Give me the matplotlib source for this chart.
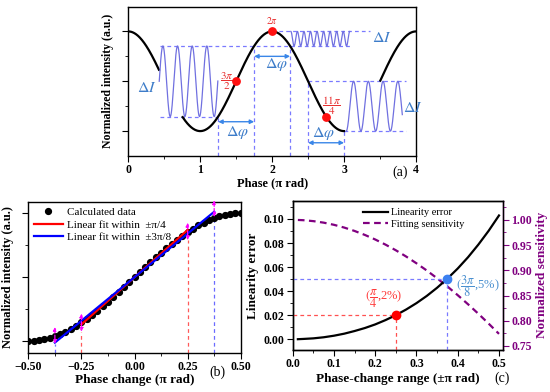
import numpy as np
import matplotlib
matplotlib.use("Agg")
import matplotlib.pyplot as plt
from matplotlib.ticker import MultipleLocator, FixedLocator

plt.rcParams['font.family'] = ['Liberation Serif', 'DejaVu Serif']
plt.rcParams['font.weight'] = 'normal'
plt.rcParams['axes.linewidth'] = 1.0
plt.rcParams['mathtext.fontset'] = 'stix'

# ---------------- data: panel (a) ----------------
a_xticks = [0, 1, 2, 3, 4]
a_xticklabels = ['0', '1', '2', '3', '4']
a_black_gaps = [(0.43, 0.755), (3.0, 3.5)]
# inset oscillations: start, end, centre, amplitude, period, start-phase (fraction of cycle)
osc_x0 = [0.43, 2.26, 3.03]
osc_x1 = [1.245, 3.08, 3.81]
osc_center = [0.5, 0.927, 0.25]
osc_amp = [0.354, 0.073, 0.25]
osc_period = [0.2037, 0.0911, 0.205]
osc_phase0 = [0.0, 0.25, -0.25]
a_hlines = [(0.854, 0.44, 3.10), (0.146, 0.44, 1.25), (1.0, 2.0, 3.36),
            (0.5, 2.5, 3.86), (0.0, 3.0, 3.86)]
a_vlines = [(1.25, 0.146), (1.75, 0.854), (2.25, 0.854), (2.5, 0.5), (3.0, 0.0)]
a_arrows = [(1.25, 1.75, 0.094), (1.75, 2.25, 0.75), (2.5, 3.0, -0.117)]
a_dphi_pos = [(1.52, -0.01), (2.06, 0.665), (2.72, -0.02)]
a_dI_pos = [(0.26, 0.43), (3.52, 0.93), (3.96, 0.23)]
a_dots_x = [1.5, 2.0, 2.75]
a_dots_y = [0.5, 1.0, 0.146]
a_dot_labels = [r'$\dfrac{3\pi}{2}$', r'$2\pi$', r'$\dfrac{11\pi}{4}$']
a_dot_label_pos = [(1.37, 0.50), (2.0, 1.11), (2.82, 0.25)]

# ---------------- data: panel (b) ----------------
b_xticks = [-0.5, -0.25, 0.0, 0.25, 0.5]
b_xticklabels = ['\u22120.50', '\u22120.25', '0.00', '0.25', '0.50']
b_x = [-0.5 + 0.025 * k for k in range(41)]
b_y = [0.000, 0.002, 0.006, 0.014, 0.024, 0.038, 0.054, 0.074, 0.095, 0.120,
       0.146, 0.175, 0.206, 0.239, 0.273, 0.309, 0.345, 0.383, 0.422, 0.461,
       0.500, 0.539, 0.578, 0.617, 0.655, 0.691, 0.727, 0.761, 0.794, 0.825,
       0.854, 0.880, 0.905, 0.926, 0.946, 0.962, 0.976, 0.986, 0.994, 0.998, 1.000]
fit_red_x = [-0.25, 0.25]
fit_red_y = [0.131, 0.869]
fit_blue_x = [-0.375, 0.375]
fit_blue_y = [-0.011, 1.011]
b_arrow_x = [-0.375, -0.25, 0.25, 0.375]
b_arrow_lo = [-0.02, 0.075, 0.79, 0.97]
b_arrow_hi = [0.11, 0.215, 0.925, 1.10]
b_arrow_col = ['#6a6aff', '#ff5a5a', '#ff5a5a', '#6a6aff']

# ---------------- data: panel (c) ----------------
c_xticks = [0.0, 0.1, 0.2, 0.3, 0.4, 0.5]
c_xticklabels = ['0.0', '0.1', '0.2', '0.3', '0.4', '0.5']
c_yticks = [0.00, 0.02, 0.04, 0.06, 0.08, 0.10]
c_yticklabels = ['0.00', '0.02', '0.04', '0.06', '0.08', '0.10']
c_y2ticks = [0.75, 0.80, 0.85, 0.90, 0.95, 1.00]
c_y2ticklabels = ['0.75', '0.80', '0.85', '0.90', '0.95', '1.00']
c_x = [0.0125, 0.025, 0.05, 0.075, 0.1, 0.125, 0.15, 0.175, 0.2, 0.225, 0.25,
       0.275, 0.3, 0.325, 0.35, 0.375, 0.4, 0.425, 0.45, 0.475, 0.5]
c_lin_err = [0.0000, 0.0002, 0.0007, 0.0016, 0.0029, 0.0046, 0.0068, 0.0093,
             0.0123, 0.0159, 0.0200, 0.0247, 0.0300, 0.0360, 0.0428, 0.0504,
             0.0588, 0.0682, 0.0787, 0.0902, 0.1029]
c_sens = [0.9998, 0.9994, 0.9975, 0.9945, 0.9902, 0.9847, 0.9780, 0.9701,
          0.9611, 0.9509, 0.9397, 0.9273, 0.9139, 0.8996, 0.8842, 0.8679,
          0.8507, 0.8327, 0.8139, 0.7943, 0.7740]
c_pts_x = [0.25, 0.375]
c_pts_y = [0.02, 0.05]

PURPLE = '#800080'
DASHBLUE = '#7a7aff'
ARROWBLUE = '#3a86e8'
TXTBLUE = '#3d7cc9'
B = 'bold'

fig = plt.figure(figsize=(5.5, 3.92), dpi=100)

# ================= panel (a) =================
axa = fig.add_axes([0.2333, 0.602, 0.523, 0.3814])
xx = np.linspace(0, 4, 800)
yy = 0.5 + 0.5 * np.cos(np.pi * xx)
for g0, g1 in a_black_gaps:
    yy = np.where((xx > g0) & (xx < g1), np.nan, yy)
axa.plot(xx, yy, color='black', lw=1.6, zorder=3)
for x0, x1, c, A, P, ph in zip(osc_x0, osc_x1, osc_center, osc_amp, osc_period, osc_phase0):
    t = np.linspace(x0, x1, 400)
    axa.plot(t, c + A * np.sin(2 * np.pi * ((t - x0) / P + ph)), color='#7070e0', lw=0.9, zorder=4)
for y, x0, x1 in a_hlines:
    axa.plot([x0, x1], [y, y], color=DASHBLUE, lw=0.9, ls=(0, (3, 2.5)), zorder=2)
for x, ytop in a_vlines:
    axa.plot([x, x], [-0.25, ytop], color=DASHBLUE, lw=0.9, ls=(0, (3, 2.5)), zorder=2)
for x0, x1, y in a_arrows:
    axa.annotate('', xy=(x0, y), xytext=(x1, y),
                 arrowprops=dict(arrowstyle='<|-|>', color=ARROWBLUE, lw=1.0,
                                 mutation_scale=6, shrinkA=0, shrinkB=0))
for (x, y) in a_dphi_pos:
    axa.text(x, y, r'$\Delta\varphi$', color=TXTBLUE, fontsize=11.5, ha='center', va='center')
for (x, y) in a_dI_pos:
    axa.text(x, y, r'$\Delta I$', color=TXTBLUE, fontsize=11.5, ha='center', va='center')
axa.scatter(a_dots_x, a_dots_y, s=28, color='#ff1010', zorder=6)
for lab, (x, y), fs in zip(a_dot_labels, a_dot_label_pos, [8, 7, 8]):
    axa.text(x, y, lab, color='#e83030', fontsize=fs, ha='center', va='center')
axa.set_xlim(0, 4)
axa.set_ylim(-0.25, 1.25)
axa.set_xticks(a_xticks, a_xticklabels, fontweight=B)
axa.xaxis.set_minor_locator(MultipleLocator(0.5))
axa.set_yticks([0, 0.5, 1.0], [])
axa.yaxis.set_minor_locator(FixedLocator([0.25, 0.75]))
axa.tick_params(which='major', length=4, labelsize=8.5, pad=2)
axa.tick_params(which='minor', length=2.5)
axa.set_xlabel('Phase (π rad)', fontsize=9, fontweight=B, labelpad=1)
axa.set_ylabel('Normalized intensity (a.u.)', fontsize=8.5, fontweight=B, labelpad=4)
fig.text(400 / 550, 1 - 172 / 392, '(a)', fontsize=10, ha='center', va='center')

# ================= panel (b) =================
axb = fig.add_axes([0.0515, 0.1003, 0.3862, 0.3852])
for x, lo, hi, col in zip(b_arrow_x, b_arrow_lo, b_arrow_hi, b_arrow_col):
    axb.plot([x, x], [-0.09, lo], color=col, lw=0.9, ls=(0, (3, 2.5)), zorder=1)
    axb.annotate('', xy=(x, lo), xytext=(x, hi),
                 arrowprops=dict(arrowstyle='<|-|>', color='#ff00ff', lw=0.9, ls='--',
                                 mutation_scale=5, shrinkA=0, shrinkB=0), zorder=5)
axb.plot(b_x, b_y, 'o', color='black', ms=4.2, label='Calculated data', zorder=3)
axb.plot(fit_red_x, fit_red_y, color='#ff0000', lw=1.6, label='Linear fit within  ±π/4', zorder=4)
axb.plot(fit_blue_x, fit_blue_y, color='#0000ff', lw=1.6, label='Linear fit within  ±3π/8', zorder=4)
axb.set_xlim(-0.5, 0.5)
axb.set_ylim(-0.09, 1.09)
axb.set_xticks(b_xticks, b_xticklabels, fontweight=B)
axb.xaxis.set_minor_locator(MultipleLocator(0.125))
axb.set_yticks([0, 0.5, 1.0], [])
axb.yaxis.set_minor_locator(FixedLocator([0.25, 0.75]))
axb.tick_params(which='major', length=4, labelsize=8.5, pad=2)
axb.tick_params(which='minor', length=2.5)
axb.set_xlabel('Phase change (π rad)', fontsize=9.5, fontweight=B, labelpad=1)
axb.set_ylabel('Normalized intensity (a.u.)', fontsize=9, fontweight=B, labelpad=4)
axb.legend(loc='upper left', frameon=False, prop={'size': 8},
           handlelength=2.6, handletextpad=0.4, borderaxespad=0.2, labelspacing=0.25,
           borderpad=0.3)
fig.text(217 / 550, 1 - 372 / 392, '(b)', fontsize=10, ha='center', va='center')

# ================= panel (c) =================
axc = fig.add_axes([0.5322, 0.1071, 0.3818, 0.3809])
axc2 = axc.twinx()
axc.plot([0, c_pts_x[0]], [c_pts_y[0]] * 2, color='#ff5050', lw=0.9, ls=(0, (3, 2.5)))
axc.plot([c_pts_x[0]] * 2, [-0.009, c_pts_y[0]], color='#ff5050', lw=0.9, ls=(0, (3, 2.5)))
axc.plot([0, c_pts_x[1]], [c_pts_y[1]] * 2, color=DASHBLUE, lw=0.9, ls=(0, (3, 2.5)))
axc.plot([c_pts_x[1]] * 2, [-0.009, c_pts_y[1]], color=DASHBLUE, lw=0.9, ls=(0, (3, 2.5)))
l1, = axc.plot(c_x, c_lin_err, color='black', lw=1.6, label='Linearity error', zorder=4)
l2, = axc2.plot(c_x, c_sens, color=PURPLE, lw=1.6, ls=(0, (3, 2)), label='Fitting sensitivity')
axc.scatter(c_pts_x[:1], c_pts_y[:1], s=36, color='#ff0000', zorder=6)
axc.scatter(c_pts_x[1:], c_pts_y[1:], s=36, color='#3c80f0', zorder=6)
axc.text(0.22, 0.0335, r'$(\dfrac{\pi}{4}$,2%)', color='#ff3a3a', fontsize=9,
         ha='center', va='center')
axc.text(0.448, 0.0445, r'$(\dfrac{3\pi}{8}$,5%)', color='#4a90d0', fontsize=9,
         ha='center', va='center')
axc.set_zorder(axc2.get_zorder() + 1)
axc.patch.set_visible(False)
axc.set_xlim(0, 0.509)
axc.set_ylim(-0.009, 0.1152)
axc2.set_ylim(0.742, 1.038)
axc.set_xticks(c_xticks, c_xticklabels, fontweight=B)
axc.xaxis.set_minor_locator(MultipleLocator(0.05))
axc.set_yticks(c_yticks, c_yticklabels, fontweight=B)
axc.yaxis.set_minor_locator(MultipleLocator(0.01))
axc2.set_yticks(c_y2ticks, c_y2ticklabels, fontweight=B)
axc2.yaxis.set_minor_locator(MultipleLocator(0.025))
for ax in (axc, axc2):
    ax.tick_params(which='major', length=4, labelsize=8.5, pad=2)
    ax.tick_params(which='minor', length=2.5)
axc2.tick_params(axis='y', which='both', colors=PURPLE)
axc2.spines['right'].set_color(PURPLE)
axc.set_xlabel('Phase-change range (±π rad)', fontsize=9.5, fontweight=B, labelpad=2)
axc.set_ylabel('Linearity error', fontsize=9.5, fontweight=B, labelpad=3)
axc2.set_ylabel('Normalized sensitivity', fontsize=9.5, fontweight=B, color=PURPLE, labelpad=3)
axc.legend([l1, l2], ['Linearity error', 'Fitting sensitivity'], loc='upper right',
           bbox_to_anchor=(0.85, 1.0), frameon=False, prop={'size': 7.5},
           handlelength=2.4, handletextpad=0.2, labelspacing=0.2, borderaxespad=0.3)
fig.text(502 / 550, 1 - 378 / 392, '(c)', fontsize=10, ha='center', va='center')

fig.savefig('out.png', dpi=100)
